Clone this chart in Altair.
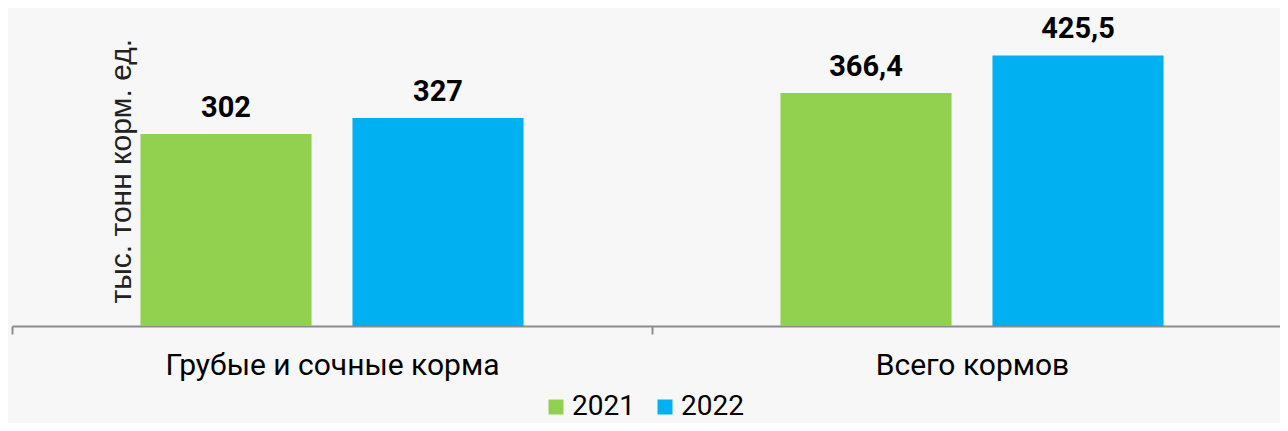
import altair as alt
import pandas as pd

categories = ["Грубые и сочные корма", "Всего кормов"]
years = ["2021", "2022"]
values_2021 = [302, 366.4]
values_2022 = [327, 425.5]
labels_2021 = ["302", "366,4"]
labels_2022 = ["327", "425,5"]
colors = ["#92d050", "#00b0f0"]

rows = []
for i, c in enumerate(categories):
    rows.append({"cat": c, "year": years[0], "value": values_2021[i], "label": labels_2021[i]})
    rows.append({"cat": c, "year": years[1], "value": values_2022[i], "label": labels_2022[i]})
df = pd.DataFrame(rows)

x = alt.X("cat:N", sort=categories,
          scale=alt.Scale(paddingInner=0, paddingOuter=0, range=[0, 1280]),
          axis=alt.Axis(title=None, labelAngle=0, labelFont="Roboto", labelFontSize=30,
                        labelColor="#000000", labelPadding=16, labelLimit=0,
                        tickBand="extent",
                        domainColor="#8c8c8c", domainWidth=2, tickColor="#8c8c8c",
                        tickWidth=2, tickSize=8, grid=False))
xo = alt.XOffset("year:N", sort=years,
                 scale=alt.Scale(paddingInner=0.193, paddingOuter=0.606))
y = alt.Y("value:Q", scale=alt.Scale(domain=[0, 500], nice=False),
          axis=alt.Axis(title="тыс. тонн корм. ед.", labels=False, ticks=False,
                        domain=False, grid=False, titleFont="Liberation Sans",
                        titleFontSize=30, titleFontWeight="normal", titleColor="#222222",
                        titleAngle=-90, titleX=118, titleY=295, titleAlign="left",
                        titleBaseline="alphabetic"))

bars = alt.Chart(df).mark_bar().encode(
    x=x, xOffset=xo, y=y,
    color=alt.Color("year:N", sort=years,
                    scale=alt.Scale(domain=years, range=colors),
                    legend=alt.Legend(title=None, orient="none", legendX=530, legendY=385,
                                      direction="horizontal", symbolType="square",
                                      symbolSize=225, symbolStrokeWidth=0,
                                      labelFont="Roboto", labelFontSize=28,
                                      labelColor="#000000", columnPadding=16,
                                      labelOffset=2))
)

text = alt.Chart(df).mark_text(font="Roboto", fontSize=29, fontWeight="bold",
                               color="#000000", baseline="alphabetic", dy=-17).encode(
    x=x, xOffset=xo, y=y, text="label:N"
)

chart = alt.layer(bars, text).properties(
    width=1268, height=318,
    autosize=alt.AutoSizeParams(type="none"),
    padding={"left": 4, "top": 0, "right": 0, "bottom": 97},
    background="#f7f7f7"
).configure_view(stroke=None)

chart.save("out.html", embed_options={"renderer": "svg", "actions": False})
